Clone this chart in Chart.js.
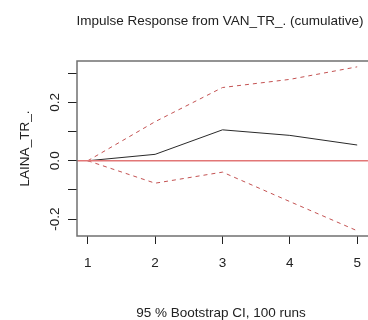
<!DOCTYPE html>
<html>
<head>
<meta charset="utf-8">
<title>Impulse Response from VAN_TR_.</title>
<script src="https://cdn.jsdelivr.net/npm/chart.js@4/dist/chart.umd.min.js"></script>
<style>
    html, body { margin: 0; padding: 0; background: #fff; overflow: hidden; }
    #wrap { width: 368px; height: 320px; overflow: hidden; position: relative; }
    #irf-chart { position: absolute; left: 0; top: 0; }
</style>
</head>
<body>
<div id="wrap"><canvas id="irf-chart" width="372" height="320"></canvas></div>
<script>
// Horizon steps and the cumulative response with its bootstrap band
const steps = [1, 2, 3, 4, 5];
const irf = [0, 0.022, 0.106, 0.087, 0.054];
const upperCI = [0, 0.134, 0.251, 0.279, 0.322];
const lowerCI = [0, -0.077, -0.039, -0.140, -0.240];

// Axis ticks (the y axis only labels every other tick)
const xTicks = [1, 2, 3, 4, 5];
const yTicks = [-0.2, -0.1, 0, 0.1, 0.2, 0.3];
const yTickLabels = ['-0.2', '', '0.0', '', '0.2', ''];

const titleText = 'Impulse Response from VAN_TR_. (cumulative)';
const yAxisText = 'LAINA_TR_.';
const captionText = '95 % Bootstrap CI, 100 runs';

const FONT = "'Liberation Sans', Arial, sans-serif";
const TEXT_COLOR = '#222';

function toPoints(values) {
    return steps.map((s, i) => ({ x: s, y: values[i] }));
}

// Frame, zero line and the text around the plot
const framePlugin = {
    id: 'irfFrame',
    beforeDraw(chart) {
        const c = chart.ctx;
        c.save();
        c.fillStyle = '#fff';
        c.fillRect(0, 0, chart.width, chart.height);
        c.restore();
    },
    afterDatasetsDraw(chart) {
        const c = chart.ctx;
        const area = chart.chartArea;
        const y0 = chart.scales.y.getPixelForValue(0);

        c.save();
        c.strokeStyle = 'rgb(226, 118, 118)';
        c.lineWidth = 1.5;
        c.beginPath();
        c.moveTo(area.left, y0);
        c.lineTo(area.right, y0);
        c.stroke();

        // the right side of the box falls past the page edge
        c.strokeStyle = '#707070';
        c.lineWidth = 1.5;
        c.beginPath();
        c.moveTo(chart.width, area.top);
        c.lineTo(area.left, area.top);
        c.lineTo(area.left, area.bottom);
        c.lineTo(chart.width, area.bottom);
        c.stroke();
        c.restore();
    },
    afterDraw(chart) {
        const c = chart.ctx;
        const yScale = chart.scales.y;

        c.save();
        c.fillStyle = TEXT_COLOR;
        c.font = '13.5px ' + FONT;
        c.textAlign = 'center';
        c.textBaseline = 'alphabetic';

        c.fillText(titleText, 220, 25);
        c.fillText(captionText, 221, 317);

        // rotated y tick labels
        yTicks.forEach((v, i) => {
            if (!yTickLabels[i]) return;
            c.save();
            c.translate(59, yScale.getPixelForValue(v));
            c.rotate(-Math.PI / 2);
            c.fillText(yTickLabels[i], 0, 0);
            c.restore();
        });

        // y axis title
        c.save();
        c.translate(29, (chart.chartArea.top + chart.chartArea.bottom) / 2);
        c.rotate(-Math.PI / 2);
        c.fillText(yAxisText, 0, 0);
        c.restore();

        c.restore();
    }
};

const ctx = document.getElementById('irf-chart').getContext('2d');

const irfChart = new Chart(ctx, {
    type: 'line',
    data: {
        datasets: [
            {
                label: 'IRF',
                data: toPoints(irf),
                borderColor: '#2a2a2a',
                borderWidth: 1,
                pointRadius: 0,
                tension: 0
            },
            {
                label: 'Upper CI',
                data: toPoints(upperCI),
                borderColor: 'rgb(196, 82, 82)',
                borderWidth: 1,
                borderDash: [4, 4],
                pointRadius: 0,
                tension: 0
            },
            {
                label: 'Lower CI',
                data: toPoints(lowerCI),
                borderColor: 'rgb(196, 82, 82)',
                borderWidth: 1,
                borderDash: [4, 4],
                pointRadius: 0,
                tension: 0
            }
        ]
    },
    options: {
        responsive: false,
        animation: false,
        devicePixelRatio: 1,
        layout: {
            padding: { top: 61, right: 2, left: 0, bottom: 0 }
        },
        plugins: {
            legend: { display: false },
            title: { display: false },
            tooltip: { enabled: false }
        },
        scales: {
            x: {
                type: 'linear',
                min: 0.84,
                max: 5.16,
                afterBuildTicks: function (scale) {
                    scale.ticks = xTicks.map(v => ({ value: v }));
                },
                afterFit: function (scale) {
                    scale.height = 84;
                },
                border: { display: false },
                grid: {
                    drawOnChartArea: false,
                    drawTicks: true,
                    tickLength: 8,
                    tickColor: '#222',
                    tickWidth: 1
                },
                ticks: {
                    padding: 11,
                    color: TEXT_COLOR,
                    autoSkip: false,
                    maxRotation: 0,
                    font: { family: FONT, size: 13.5 },
                    callback: function (value) {
                        return String(value);
                    }
                }
            },
            y: {
                type: 'linear',
                min: -0.258,
                max: 0.342,
                afterBuildTicks: function (scale) {
                    scale.ticks = yTicks.map(v => ({ value: v }));
                },
                afterFit: function (scale) {
                    scale.width = 77;
                },
                border: { display: false },
                grid: {
                    drawOnChartArea: false,
                    drawTicks: true,
                    tickLength: 9,
                    tickColor: '#222',
                    tickWidth: 1
                },
                ticks: {
                    display: false
                }
            }
        }
    },
    plugins: [framePlugin]
});
</script>
</body>
</html>
